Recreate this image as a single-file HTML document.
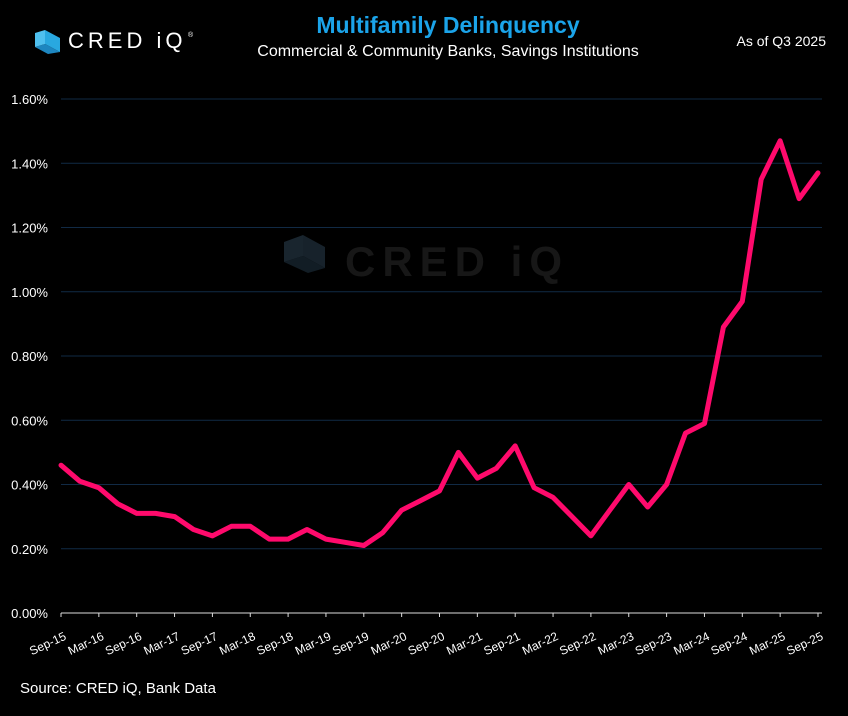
<!DOCTYPE html>
<html><head><meta charset="utf-8">
<style>
html,body{margin:0;padding:0;background:#000;}
body{width:848px;height:711px;overflow:hidden;font-family:"Liberation Sans",sans-serif;}
</style></head>
<body>
<svg id="chart" width="848" height="711" xmlns="http://www.w3.org/2000/svg">
  <rect width="848" height="711" fill="#000"/>
  <g>
    <polygon points="45,30 60,38 60,52 45,44" fill="#29a8e0"/>
    <polygon points="45,44 60,52 48,54 35,47" fill="#1d86c0"/>
    <polygon points="35,33 45,30 45,44 35,47" fill="#4fc0ef"/>
    <text x="68" y="48" font-size="22" fill="#fff" letter-spacing="4">CRED iQ</text>
    <text x="188" y="37" font-size="7" fill="#fff">®</text>
  </g>
  <text x="448" y="33" text-anchor="middle" font-size="23" font-weight="bold" fill="#1ba4ea">Multifamily Delinquency</text>
  <text x="448" y="56" text-anchor="middle" font-size="16" fill="#fff">Commercial &amp; Community Banks, Savings Institutions</text>
  <text x="826" y="46" text-anchor="end" font-size="14" fill="#fff">As of Q3 2025</text>
  <g opacity="0.9">
    <polygon points="303,235 325,247 325,268 303,256" fill="#1a2630"/>
    <polygon points="303,256 325,268 308,273 284,262" fill="#15212a"/>
    <polygon points="284,242 303,235 303,256 284,262" fill="#1c2a34"/>
    <text x="345" y="276" font-size="42" fill="#1a1a1a" letter-spacing="7" font-weight="bold">CRED iQ</text>
  </g>
  <g id="grid"></g>
  <g id="axes"></g>
  <path id="line" fill="none" stroke="#ff0a6c" stroke-width="5" stroke-linejoin="round" stroke-linecap="round"/>
  <text x="20" y="693" font-size="15" fill="#fff">Source:  CRED iQ, Bank Data</text>
</svg>
<script>
const quarters = ["Sep-15","Dec-15","Mar-16","Jun-16","Sep-16","Dec-16","Mar-17","Jun-17","Sep-17","Dec-17","Mar-18","Jun-18","Sep-18","Dec-18","Mar-19","Jun-19","Sep-19","Dec-19","Mar-20","Jun-20","Sep-20","Dec-20","Mar-21","Jun-21","Sep-21","Dec-21","Mar-22","Jun-22","Sep-22","Dec-22","Mar-23","Jun-23","Sep-23","Dec-23","Mar-24","Jun-24","Sep-24","Dec-24","Mar-25","Jun-25","Sep-25"];
const values = [0.46,0.41,0.39,0.34,0.31,0.31,0.30,0.26,0.24,0.27,0.27,0.23,0.23,0.26,0.23,0.22,0.21,0.25,0.32,0.35,0.38,0.50,0.42,0.45,0.52,0.39,0.36,0.30,0.24,0.32,0.40,0.33,0.40,0.56,0.59,0.89,0.97,1.35,1.47,1.29,1.37];
const yTicks = [0,0.2,0.4,0.6,0.8,1.0,1.2,1.4,1.6];
const NS = "http://www.w3.org/2000/svg";
const x0 = 61, x1 = 818, y0 = 613, y1 = 99, yMax = 1.6;
const xs = i => x0 + i * (x1 - x0) / (quarters.length - 1);
const ys = v => y0 - v / yMax * (y0 - y1);
const grid = document.getElementById('grid');
const axes = document.getElementById('axes');
yTicks.forEach(t => {
  const y = ys(t);
  if (t > 0) {
    const l = document.createElementNS(NS, 'line');
    l.setAttribute('x1', x0); l.setAttribute('x2', 822); l.setAttribute('y1', y); l.setAttribute('y2', y);
    l.setAttribute('stroke', '#112a45'); l.setAttribute('stroke-width', '1');
    
    
    grid.appendChild(l);
  }
  const tx = document.createElementNS(NS, 'text');
  tx.setAttribute('x', 48); tx.setAttribute('y', y + 5);
  tx.setAttribute('text-anchor', 'end'); tx.setAttribute('font-size', '13'); tx.setAttribute('fill', '#fff');
  tx.textContent = t.toFixed(2) + '%';
  
  
  axes.appendChild(tx);
});
const ax = document.createElementNS(NS, 'line');
ax.setAttribute('x1', x0); ax.setAttribute('x2', 822); ax.setAttribute('y1', y0); ax.setAttribute('y2', y0);
ax.setAttribute('stroke', '#ddd'); ax.setAttribute('stroke-width', '1');


axes.appendChild(ax);
quarters.forEach((q, i) => {
  if (i % 2) return;
  const x = xs(i);
  const tk = document.createElementNS(NS, 'line');
  tk.setAttribute('x1', x); tk.setAttribute('x2', x); tk.setAttribute('y1', y0); tk.setAttribute('y2', y0 + 4);
  tk.setAttribute('stroke', '#ddd');
  
  
  axes.appendChild(tk);
  const tx = document.createElementNS(NS, 'text');
  tx.setAttribute('transform', `translate(${x + 6},${y0 + 26}) rotate(-25)`);
  tx.setAttribute('text-anchor', 'end'); tx.setAttribute('font-size', '12'); tx.setAttribute('fill', '#fff');
  tx.textContent = q;
  
  
  axes.appendChild(tx);
});
document.getElementById('line').setAttribute('d', values.map((v, i) => (i ? 'L' : 'M') + xs(i).toFixed(1) + ',' + ys(v).toFixed(1)).join(' '));
</script>
</body></html>
